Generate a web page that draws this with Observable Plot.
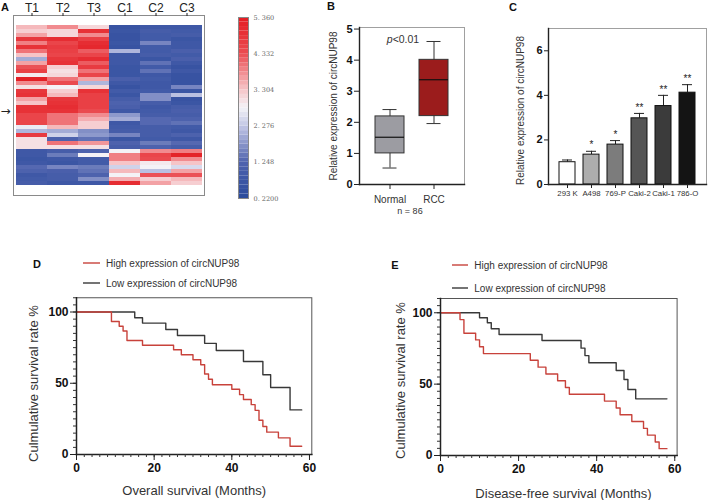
<!DOCTYPE html>
<html><head><meta charset="utf-8">
<script src="https://cdn.jsdelivr.net/npm/d3@7"></script>
<script src="https://cdn.jsdelivr.net/npm/@observablehq/plot@0.6"></script>
<style>
body{margin:0;background:#fff;}
#root{position:relative;width:709px;height:500px;overflow:hidden;font-family:"Liberation Sans",Arial,sans-serif;color:#222;}
#root svg{position:absolute;}
.t{position:absolute;transform:translate(-50%,-50%);white-space:nowrap;}
.lg{position:absolute;transform:translate(0,-50%);white-space:nowrap;font-size:10px;color:#333;}
</style></head><body><div id="root"></div><script>
// ---------- Panel A: heatmap ----------
const heatCols = ["T1","T2","T3","C1","C2","C3"];
const heatT1 = [3.4,3.2,3.6,4.8,3.9,4.9,4.0,3.3,2.0,3.6,4.3,4.6,2.9,5.3,3.8,3.0,4.8,4.9,3.6,3.3,4.9,4.9,4.5,4.5,4.5,2.7,2.1,4.7,3.0,3.0,3.0,0.8,0.8,0.7,0.8,1.3,1.2,0.8,0.9,1.0];
const heatT2 = [3.8,3.1,3.1,5.0,4.5,4.7,4.6,4.5,4.8,4.9,3.2,3.0,3.1,4.0,4.4,2.8,3.2,3.4,4.8,4.9,5.0,4.9,4.0,4.0,4.0,3.4,2.0,2.4,1.2,4.0,3.0,1.0,1.5,0.8,0.7,1.6,1.1,1.0,1.0,0.8];
const heatT3 = [3.1,4.9,3.8,4.6,5.0,5.1,4.2,4.5,5.0,4.2,4.7,4.0,4.5,3.6,2.1,3.1,4.9,4.6,4.6,4.6,4.6,4.4,3.8,3.5,3.2,3.2,1.7,1.8,1.4,3.7,3.0,1.2,2.8,0.9,0.9,1.5,1.4,1.2,1.7,0.8];
const heatC1 = [0.6,0.7,0.6,0.6,0.7,0.6,2.1,0.8,0.8,0.8,0.7,0.7,0.7,1.1,0.8,0.6,0.9,0.7,1.0,1.2,1.1,0.8,1.8,2.0,0.8,0.9,1.0,1.6,0.7,1.2,1.0,2.8,3.9,3.9,3.3,2.4,3.4,2.8,3.5,5.0];
const heatC2 = [0.8,1.0,0.9,0.9,1.6,0.9,0.9,1.0,0.7,1.4,0.9,1.4,0.8,0.9,0.8,0.8,0.9,1.7,1.7,1.0,0.8,0.9,1.0,1.3,1.3,1.0,1.0,1.0,0.9,1.5,1.2,3.8,4.5,4.4,2.9,2.8,2.2,4.3,3.2,3.6];
const heatC3 = [0.8,0.9,1.0,0.7,0.8,0.8,1.1,0.9,1.1,0.8,0.6,0.8,0.6,0.6,0.6,1.6,0.7,2.2,0.6,0.7,1.0,1.1,1.0,1.2,1.4,0.9,0.8,1.2,0.8,1.3,1.0,3.9,5.2,3.8,3.3,2.5,3.6,4.3,3.4,3.2];
const heatArrowRow = 21;
const cbTicks = [5.36, 4.332, 3.304, 2.276, 1.248, 0.22];
const cbTickLabels = ["5. 360","4. 332","3. 304","2. 276","1. 248","0. 2200"];
const heatStops = [0.22, 1.248, 2.276, 2.79, 3.304, 4.332, 5.36];
const heatStopColors = ["#2a4a9b", "#4f63ae", "#c3c7e5", "#f4f3f7", "#f6c4c7", "#eb4d52", "#e31c22"];

// ---------- Panel B: box plot ----------
const boxGroups = ["Normal","RCC"];
const boxMin = [0.53, 1.96];
const boxQ1 = [1.0, 2.2];
const boxMedian = [1.52, 3.37];
const boxQ3 = [2.19, 4.01];
const boxMax = [2.41, 4.6];
const boxFills = ["#9c9ca2", "#9b1c1c"];

// ---------- Panel C: bar chart ----------
const cellLines = ["293 K","A498","769-P","Caki-2","Caki-1","786-O"];
const cellMean = [1.0, 1.34, 1.79, 2.97, 3.52, 4.12];
const cellSD = [0.1, 0.15, 0.18, 0.22, 0.48, 0.36];
const cellStars = ["", "*", "*", "**", "**", "**"];
const cellFills = ["#ffffff","#adadad","#7c7c7c","#555555","#3b3b3b","#141414"];

// ---------- Panels D, E: Kaplan-Meier ----------
const osHighTime = [0, 9, 11, 12, 13, 17, 25, 27, 30, 32, 33, 34, 35, 40, 42, 43, 45, 46, 47, 48, 49, 52, 55, 58];
const osHighSurv = [100, 93.3, 90, 86.7, 80, 76.7, 73.5, 70, 66.5, 63, 56.5, 52.8, 49, 45.8, 42, 38.6, 35, 31, 24, 19.6, 15.7, 11.7, 5.8, 5.8];
const osLowTime = [0, 15, 17, 23, 26, 33, 36, 43, 48, 50, 55, 58];
const osLowSurv = [100, 96, 92.2, 87.7, 83.5, 78, 73, 65.3, 56, 47, 31.3, 31.3];
const dfsHighTime = [0, 5, 6, 9, 10, 11, 23, 25, 27, 30, 32, 33, 42, 45, 46, 49, 52, 53, 55, 56, 58];
const dfsHighSurv = [100, 95.2, 85.7, 81, 76.2, 71.4, 66.7, 61.9, 57.1, 52.4, 47.6, 42.9, 38.1, 33.3, 28.6, 23.8, 19, 14.3, 9.5, 4.8, 4.8];
const dfsLowTime = [0, 10, 12, 13, 15, 26, 36, 37, 38, 45, 47, 48, 50, 58];
const dfsLowSurv = [100, 96.5, 93, 88.8, 84.8, 80.6, 75.2, 70, 65, 59.6, 53.3, 46.2, 39.7, 39.7];
const kmHighColor = "#c8423b";
const kmLowColor = "#383838";

const root = document.getElementById("root");
const FONT = "'Liberation Sans', Arial, sans-serif";
function place(el, left, top) { el.style.left = left + "px"; el.style.top = top + "px"; root.appendChild(el); }
function addText(html, x, y, css) { const d = document.createElement("div"); d.className = "t"; d.innerHTML = html; d.style.cssText += css || ""; place(d, x, y); }
function addLegend(x1, x2, y, color, label) {
  const ns = "http://www.w3.org/2000/svg";
  const s = document.createElementNS(ns, "svg");
  s.setAttribute("width", x2 - x1); s.setAttribute("height", 4);
  const l = document.createElementNS(ns, "line");
  l.setAttribute("x1", 0); l.setAttribute("x2", x2 - x1); l.setAttribute("y1", 2); l.setAttribute("y2", 2);
  l.setAttribute("stroke", color); l.setAttribute("stroke-width", 1.4);
  s.appendChild(l);
  place(s, x1, y - 2);
  const t = document.createElement("div"); t.className = "lg"; t.textContent = label; place(t, x2 + 6, y);
}
function boldTicks(svg, axes) {
  axes.forEach(a => svg.querySelectorAll(`g[aria-label="${a}-axis tick label"]`).forEach(g => { g.setAttribute("font-weight", "bold"); g.setAttribute("fill", "#111"); }));
}
const baseStyle = {fontFamily: FONT, fontSize: "10px", color: "#222", background: "transparent", overflow: "visible"};
const intFmt = d => String(d);

// Heatmap
const heatColor = d3.scaleLinear().domain(heatStops).range(heatStopColors).clamp(true);
const heatSeries = [heatT1, heatT2, heatT3, heatC1, heatC2, heatC3];
const heatData = [];
heatSeries.forEach((arr, j) => arr.forEach((v, i) => heatData.push({row: i, col: heatCols[j], value: v})));
const heatRows = d3.range(heatT1.length);
const plotA = Plot.plot({
  width: 210, height: 198, marginLeft: 13, marginRight: 6, marginTop: 15, marginBottom: 3,
  x: {type: "band", domain: heatCols, padding: 0},
  y: {type: "band", domain: heatRows, padding: 0, axis: null},
  color: {type: "identity"},
  style: baseStyle,
  marks: [
    Plot.cell(heatData, {x: "col", y: "row", fill: d => heatColor(d.value)}),
    Plot.frame({stroke: "#8a8a8a"}),
    Plot.axisX({anchor: "top", tickSize: 3, tickPadding: 1, fontSize: 12, label: null}),
    Plot.text(["→"], {y: [heatArrowRow], frameAnchor: "left", dx: -13, textAnchor: "start", fontSize: 12, fontFamily: "'DejaVu Sans', sans-serif", text: d => d, fill: "#222"})
  ]
});
place(plotA, 0, 0);

// Colour bar
const cbN = 40, cbLo = 0.22, cbHi = 5.36;
const cbSteps = d3.range(cbN).map(i => {
  const a = cbLo + i * (cbHi - cbLo) / cbN, b = cbLo + (i + 1) * (cbHi - cbLo) / cbN;
  return {y1: a, y2: b, fill: heatColor((a + b) / 2)};
});
const plotCB = Plot.plot({
  width: 70, height: 205, marginLeft: 8, marginRight: 52, marginTop: 17, marginBottom: 7,
  x: {domain: [0, 1], axis: null}, y: {domain: [cbLo, cbHi], axis: null},
  color: {type: "identity"},
  style: baseStyle,
  marks: [
    Plot.rect(cbSteps, {x1: 0, x2: 1, y1: "y1", y2: "y2", fill: "fill"}),
    Plot.frame({stroke: "#888"}),
    Plot.text(cbTicks, {x: 1, y: d => d, text: (d, i) => cbTickLabels[i], dx: 5, textAnchor: "start", fontSize: 6.5, fontFamily: "'DejaVu Serif', serif", fill: "#666"})
  ]
});
place(plotCB, 230, 0);

// Box plot
const boxData = boxGroups.map((g, i) => ({group: g, min: boxMin[i], q1: boxQ1[i], median: boxMedian[i], q3: boxQ3[i], max: boxMax[i], fill: boxFills[i]}));
const plotB = Plot.plot({
  width: 160, height: 220, marginLeft: 49, marginRight: 6, marginTop: 27, marginBottom: 36,
  x: {type: "band", domain: boxGroups, paddingInner: 0.33, paddingOuter: 0.335},
  y: {domain: [0, 5.05]},
  color: {type: "identity"},
  style: baseStyle,
  marks: [
    Plot.frame({stroke: "#a0a0a0"}),
    Plot.ruleX(boxData, {x: "group", y1: "min", y2: "max", stroke: "#333"}),
    Plot.tickY(boxData, {x: "group", y: "min", insetLeft: 7.5, insetRight: 7.5, stroke: "#333"}),
    Plot.tickY(boxData, {x: "group", y: "max", insetLeft: 7.5, insetRight: 7.5, stroke: "#333"}),
    Plot.barY(boxData, {x: "group", y1: "q1", y2: "q3", fill: "fill", stroke: "#333"}),
    Plot.tickY(boxData, {x: "group", y: "median", stroke: "#111", strokeWidth: 1.2}),
    Plot.frame({anchor: "left", stroke: "#222", strokeWidth: 1.4}),
    Plot.frame({anchor: "bottom", stroke: "#222", strokeWidth: 1.4}),
    Plot.axisY({ticks: [0, 1, 2, 3, 4, 5], tickFormat: intFmt, tickSize: 5, tickPadding: 2, fontSize: 11, label: null, stroke: "#222"}),
    Plot.axisX({tickSize: 5, tickPadding: 6, fontSize: 10, label: null, fill: "#333"}),
    Plot.text(["Relative expression of circNUP98"], {frameAnchor: "left", rotate: -90, dx: -26, dy: 0, fontSize: 10, textAnchor: "middle", lineAnchor: "middle", fill: "#333"})
  ]
});
boldTicks(plotB, ["y"]);
place(plotB, 310, 0);

// Bar chart
const cellData = cellLines.map((c, i) => ({line: c, mean: cellMean[i], err: cellMean[i] + cellSD[i], stars: cellStars[i], fill: cellFills[i]}));
const plotC = Plot.plot({
  width: 209, height: 210, marginLeft: 48, marginRight: 3, marginTop: 28, marginBottom: 26,
  x: {type: "band", domain: cellLines, paddingInner: 0.32, paddingOuter: 0.37},
  y: {domain: [0, 7]},
  color: {type: "identity"},
  style: baseStyle,
  marks: [
    Plot.frame({stroke: "#a0a0a0"}),
    Plot.ruleX(cellData, {x: "line", y1: "mean", y2: "err", stroke: "#222"}),
    Plot.tickY(cellData, {x: "line", y: "err", insetLeft: 3, insetRight: 3, stroke: "#222"}),
    Plot.barY(cellData, {x: "line", y: "mean", fill: "fill", stroke: "#111"}),
    Plot.text(cellData, {x: "line", y: "err", text: "stars", dy: -6, fontSize: 10, fill: "#222"}),
    Plot.frame({anchor: "left", stroke: "#222", strokeWidth: 1.4}),
    Plot.frame({anchor: "bottom", stroke: "#222", strokeWidth: 1.4}),
    Plot.axisY({ticks: [0, 2, 4, 6], tickFormat: intFmt, tickSize: 4, tickPadding: 2, fontSize: 11, label: null}),
    Plot.axisX({tickSize: 4, tickPadding: 2, fontSize: 7.8, label: null, fill: "#333"}),
    Plot.text(["Relative expression of circNUP98"], {frameAnchor: "left", rotate: -90, dx: -28, dy: 4, fontSize: 10, textAnchor: "middle", lineAnchor: "middle", fill: "#333"})
  ]
});
boldTicks(plotC, ["y"]);
place(plotC, 500, 0);

// Kaplan-Meier plots
function kmPlot(o) {
  const high = o.highT.map((t, i) => ({t, s: o.highS[i]}));
  const low = o.lowT.map((t, i) => ({t, s: o.lowS[i]}));
  const p = Plot.plot({
    width: o.width, height: 250, marginLeft: o.ml, marginRight: o.mr, marginTop: o.mt, marginBottom: o.mb,
    x: {domain: [0, 60.6]}, y: {domain: [0, 110]},
    style: baseStyle,
    marks: [
      Plot.frame({stroke: "#555"}),
      Plot.line(low, {x: "t", y: "s", curve: "step-after", stroke: kmLowColor, strokeWidth: 1.4}),
      Plot.line(high, {x: "t", y: "s", curve: "step-after", stroke: kmHighColor, strokeWidth: 1.4}),
      Plot.frame({anchor: "left", stroke: "#222", strokeWidth: 1.5}),
      Plot.frame({anchor: "bottom", stroke: "#222", strokeWidth: 1.5}),
      Plot.axisY({ticks: d3.range(0, 111, 5), tickSize: 3, tickFormat: () => "", label: null, stroke: "#333"}),
      Plot.axisY({ticks: [0, 50, 100], tickFormat: intFmt, tickSize: 6, tickPadding: 2, fontSize: 12, label: null, stroke: "#222"}),
      Plot.axisX({ticks: d3.range(0, 61, 2), tickSize: 3, tickFormat: () => "", label: null, stroke: "#333"}),
      Plot.axisX({ticks: [0, 20, 40, 60], tickFormat: intFmt, tickSize: 6, tickPadding: 3, fontSize: 12, label: null, stroke: "#222"}),
      Plot.text(["Culmulative survival rate %"], {frameAnchor: "left", rotate: -90, dx: o.ydx, dy: o.ydy, fontSize: 13, textAnchor: "middle", lineAnchor: "middle", fill: "#333"}),
      Plot.text([o.xlabel], {frameAnchor: "bottom", dx: o.xdx, dy: o.xdy, fontSize: 13, textAnchor: "middle", lineAnchor: "middle", fill: "#333"})
    ]
  });
  boldTicks(p, ["x", "y"]);
  return p;
}
const plotD = kmPlot({highT: osHighTime, highS: osHighSurv, lowT: osLowTime, lowS: osLowSurv, xlabel: "Overall survival (Months)",
  width: 355, ml: 76, mr: 43.7, mt: 47.25, mb: 46, ydx: -43, ydy: 7.4, xdx: 0, xdy: 36});
place(plotD, 0, 250);
const plotE = kmPlot({highT: dfsHighTime, highS: dfsHighSurv, lowT: dfsLowTime, lowS: dfsLowSurv, xlabel: "Disease-free survival (Months)",
  width: 354, ml: 85, mr: 32.4, mt: 48, mb: 45, ydx: -40, ydy: 3.5, xdx: 4.7, xdy: 38});
place(plotE, 355, 250);

// Annotations
const letterCss = "font-weight:bold;font-size:11px;color:#111;";
addText("A", 5, 7, letterCss);
addText("B", 331, 6, letterCss);
addText("C", 513, 7, letterCss);
addText("D", 37, 264, letterCss);
addText("E", 395, 265, letterCss);
addText("<i>p</i>&lt;0.01", 403, 39, "font-size:10.5px;color:#333;");
addText("n = 86", 410, 211, "font-size:9px;color:#333;");
addLegend(83, 100, 263.3, kmHighColor, "High expression of circNUP98");
addLegend(83, 100, 283.3, kmLowColor, "Low expression of circNUP98");
addLegend(451.7, 468.3, 265.3, kmHighColor, "High expression of circNUP98");
addLegend(451.7, 468.3, 287.7, kmLowColor, "Low expression of circNUP98");
</script></body></html>
